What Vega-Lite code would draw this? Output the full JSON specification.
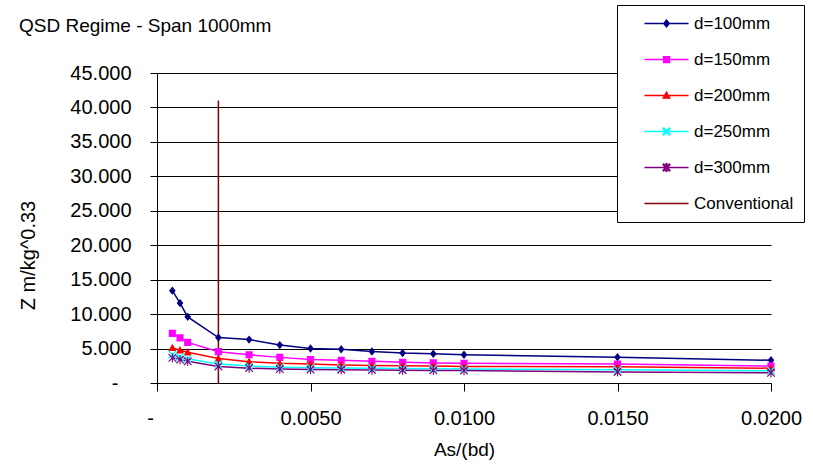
{
  "$schema": "https://vega.github.io/schema/vega-lite/v6.json",
  "width": 614,
  "height": 310,
  "autosize": {"type": "none"},
  "padding": {"left": 157, "top": 73, "right": 42, "bottom": 84},
  "background": "white",
  "title": {
    "text": "QSD Regime - Span 1000mm",
    "anchor": "start",
    "frame": "group",
    "dx": -138,
    "dy": 35,
    "fontSize": 19,
    "fontWeight": "normal",
    "font": "Liberation Sans",
    "color": "black"
  },
  "config": {
    "view": {"stroke": null},
    "font": "Liberation Sans",
    "legend": {
      "orient": "none",
      "legendX": 460,
      "legendY": -68,
      "title": null,
      "padding": 10,
      "strokeColor": "black",
      "fillColor": "white",
      "labelFontSize": 17,
      "labelColor": "black",
      "symbolSize": 49,
      "symbolOffset": 31,
      "labelOffset": 19,
      "rowPadding": 18,
      "symbolStrokeWidth": 1.3
    }
  },
  "data": {
    "values": [
      {"series": "d=100mm", "x": 0.0005, "z": 13.4},
      {"series": "d=100mm", "x": 0.00075, "z": 11.6},
      {"series": "d=100mm", "x": 0.001, "z": 9.6},
      {"series": "d=100mm", "x": 0.002, "z": 6.6},
      {"series": "d=100mm", "x": 0.003, "z": 6.3},
      {"series": "d=100mm", "x": 0.004, "z": 5.5},
      {"series": "d=100mm", "x": 0.005, "z": 5.0},
      {"series": "d=100mm", "x": 0.006, "z": 4.9},
      {"series": "d=100mm", "x": 0.007, "z": 4.57},
      {"series": "d=100mm", "x": 0.008, "z": 4.35},
      {"series": "d=100mm", "x": 0.009, "z": 4.24},
      {"series": "d=100mm", "x": 0.01, "z": 4.1},
      {"series": "d=100mm", "x": 0.015, "z": 3.75},
      {"series": "d=100mm", "x": 0.02, "z": 3.3},
      {"series": "d=150mm", "x": 0.0005, "z": 7.2},
      {"series": "d=150mm", "x": 0.00075, "z": 6.55},
      {"series": "d=150mm", "x": 0.001, "z": 5.9},
      {"series": "d=150mm", "x": 0.002, "z": 4.55},
      {"series": "d=150mm", "x": 0.003, "z": 4.1},
      {"series": "d=150mm", "x": 0.004, "z": 3.72},
      {"series": "d=150mm", "x": 0.005, "z": 3.4},
      {"series": "d=150mm", "x": 0.006, "z": 3.3},
      {"series": "d=150mm", "x": 0.007, "z": 3.15},
      {"series": "d=150mm", "x": 0.008, "z": 3.02},
      {"series": "d=150mm", "x": 0.009, "z": 2.92},
      {"series": "d=150mm", "x": 0.01, "z": 2.86},
      {"series": "d=150mm", "x": 0.015, "z": 2.75},
      {"series": "d=150mm", "x": 0.02, "z": 2.45},
      {"series": "d=200mm", "x": 0.0005, "z": 5.1},
      {"series": "d=200mm", "x": 0.00075, "z": 4.75},
      {"series": "d=200mm", "x": 0.001, "z": 4.46},
      {"series": "d=200mm", "x": 0.002, "z": 3.55},
      {"series": "d=200mm", "x": 0.003, "z": 3.1},
      {"series": "d=200mm", "x": 0.004, "z": 2.85},
      {"series": "d=200mm", "x": 0.005, "z": 2.75},
      {"series": "d=200mm", "x": 0.006, "z": 2.62},
      {"series": "d=200mm", "x": 0.007, "z": 2.55},
      {"series": "d=200mm", "x": 0.008, "z": 2.5},
      {"series": "d=200mm", "x": 0.009, "z": 2.45},
      {"series": "d=200mm", "x": 0.01, "z": 2.4},
      {"series": "d=200mm", "x": 0.015, "z": 2.35},
      {"series": "d=200mm", "x": 0.02, "z": 2.15},
      {"series": "d=250mm", "x": 0.0005, "z": 4.1},
      {"series": "d=250mm", "x": 0.00075, "z": 3.8},
      {"series": "d=250mm", "x": 0.001, "z": 3.5},
      {"series": "d=250mm", "x": 0.002, "z": 2.75},
      {"series": "d=250mm", "x": 0.003, "z": 2.45},
      {"series": "d=250mm", "x": 0.004, "z": 2.3},
      {"series": "d=250mm", "x": 0.005, "z": 2.22},
      {"series": "d=250mm", "x": 0.006, "z": 2.18},
      {"series": "d=250mm", "x": 0.007, "z": 2.14},
      {"series": "d=250mm", "x": 0.008, "z": 2.1},
      {"series": "d=250mm", "x": 0.009, "z": 2.07},
      {"series": "d=250mm", "x": 0.01, "z": 2.05},
      {"series": "d=250mm", "x": 0.015, "z": 1.92},
      {"series": "d=250mm", "x": 0.02, "z": 1.78},
      {"series": "d=300mm", "x": 0.0005, "z": 3.65},
      {"series": "d=300mm", "x": 0.00075, "z": 3.4},
      {"series": "d=300mm", "x": 0.001, "z": 3.15},
      {"series": "d=300mm", "x": 0.002, "z": 2.4},
      {"series": "d=300mm", "x": 0.003, "z": 2.15},
      {"series": "d=300mm", "x": 0.004, "z": 2.02},
      {"series": "d=300mm", "x": 0.005, "z": 1.95},
      {"series": "d=300mm", "x": 0.006, "z": 1.92},
      {"series": "d=300mm", "x": 0.007, "z": 1.88},
      {"series": "d=300mm", "x": 0.008, "z": 1.85},
      {"series": "d=300mm", "x": 0.009, "z": 1.83},
      {"series": "d=300mm", "x": 0.01, "z": 1.8},
      {"series": "d=300mm", "x": 0.015, "z": 1.6},
      {"series": "d=300mm", "x": 0.02, "z": 1.48},
      {"series": "Conventional", "x": 0.002, "z": 0},
      {"series": "Conventional", "x": 0.002, "z": 41}
    ]
  },
  "encoding": {
    "x": {
      "field": "x",
      "type": "quantitative",
      "scale": {"domain": [0, 0.02], "nice": false, "zero": true},
      "axis": {
        "title": "As/(bd)",
        "values": [0, 0.005, 0.01, 0.015, 0.02],
        "labelExpr": "datum.value == 0 ? '-' : format(datum.value, '.4f')",
        "labelOffset": {"condition": {"test": "datum.value == 0", "value": -7}, "value": 0},
        "grid": false,
        "domainColor": "black",
        "domainWidth": 1,
        "tickColor": "black",
        "tickSize": 8,
        "labelPadding": 17,
        "labelFontSize": 20,
        "labelColor": "black",
        "labelFlush": false,
        "labelOverlap": false,
        "titleFontSize": 19,
        "titleFontWeight": "normal",
        "titleColor": "black",
        "titlePadding": 12
      }
    },
    "y": {
      "field": "z",
      "type": "quantitative",
      "scale": {"domain": [0, 45], "nice": false},
      "axis": {
        "title": "Z m/kg^0.33",
        "values": [0, 5, 10, 15, 20, 25, 30, 35, 40, 45],
        "labelExpr": "datum.value == 0 ? '-' : format(datum.value, '.3f')",
        "labelPadding": {"condition": {"test": "datum.value == 0", "value": 32}, "value": 19},
        "grid": true,
        "gridColor": "black",
        "gridWidth": 1,
        "gridOpacity": 1,
        "domainColor": "black",
        "tickColor": "black",
        "tickSize": 7,
        "labelFontSize": 20,
        "labelColor": "black",
        "labelOverlap": false,
        "titleFontSize": 20,
        "titleFontWeight": "normal",
        "titleColor": "black",
        "titleAngle": -90,
        "titleX": -129,
        "titleY": 182,
        "titleAlign": "center",
        "titleBaseline": "middle"
      }
    },
    "color": {
      "field": "series",
      "type": "nominal",
      "scale": {
        "domain": ["d=100mm", "d=150mm", "d=200mm", "d=250mm", "d=300mm", "Conventional"],
        "range": ["#000080", "#FF00FF", "#FF0000", "#00FFFF", "#800080", "#800000"]
      },
      "legend": {
        "encoding": {
          "symbols": {
            "update": {
              "stroke": {"scale": "color", "field": "value"},
              "strokeWidth": {"value": 1.3}
            }
          }
        }
      }
    }
  },
  "layer": [
    {
      "mark": {"type": "line", "strokeWidth": 1.5}
    },
    {
      "transform": [{"filter": "datum.series != 'Conventional'"}],
      "mark": {"type": "point", "filled": true, "opacity": 1, "size": 70},
      "encoding": {
        "shape": {
          "field": "series",
          "type": "nominal",
          "scale": {
            "domain": ["d=100mm", "d=150mm", "d=200mm", "d=250mm", "d=300mm", "Conventional"],
            "range": [
              "M-6.3,0H6.3M0,-1L0.8,0L0,1L-0.8,0Z",
              "M-6.3,0H6.3M-0.85,-0.85H0.85V0.85H-0.85Z",
              "M-6.3,0H6.3M0,-1L0.95,0.75H-0.95Z",
              "M-6.3,0H6.3M-1,-0.8L-0.8,-1L1,0.8L0.8,1ZM1,-0.8L-0.8,1L-1,0.8L0.8,-1Z",
              "M-6.3,0H6.3M-1,-0.8L-0.8,-1L1,0.8L0.8,1ZM1,-0.8L-0.8,1L-1,0.8L0.8,-1ZM-0.13,-1.1H0.13V1.1H-0.13Z",
              "M-6.3,0H6.3"
            ]
          },
          "legend": {
            "encoding": {
              "symbols": {
                "update": {
                  "stroke": {"scale": "color", "field": "value"},
                  "strokeWidth": {"value": 1.3}
                }
              }
            }
          }
        }
      }
    }
  ]
}
